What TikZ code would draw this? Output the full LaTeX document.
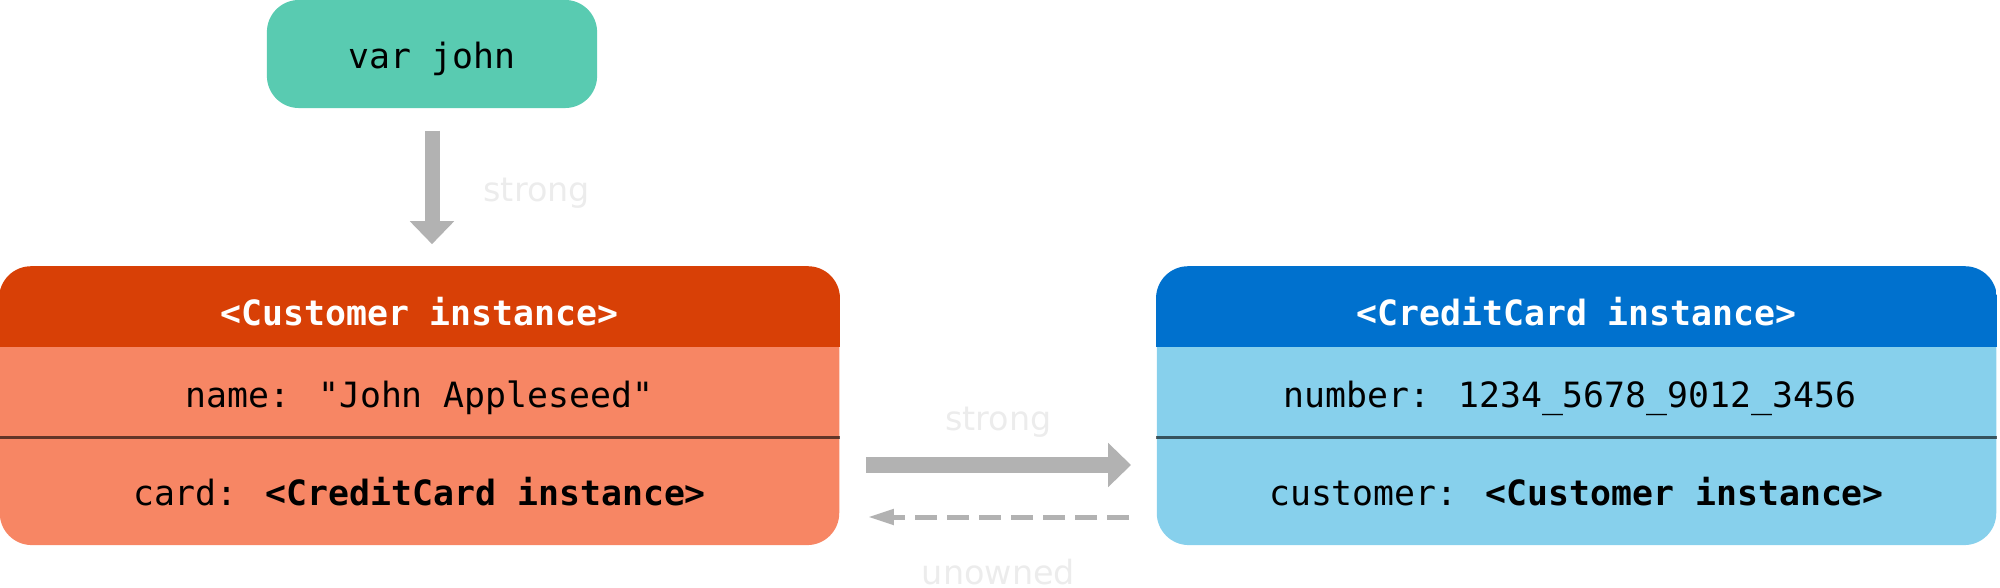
\documentclass[tikz,border=0pt]{standalone}
\usepackage{fontspec}
\usepackage{tikz}
\usetikzlibrary{arrows.meta,positioning,calc}
\newfontfamily\codemono{DejaVu Sans Mono}
\newfontfamily\labelsans{DejaVu Sans}
\newcommand{\codesize}{\fontsize{9.9pt}{12pt}\selectfont}
\newcommand{\labelsize}{\fontsize{9.5pt}{11pt}\selectfont}
\definecolor{johngreen}{RGB}{89,203,177}
\definecolor{custdark}{RGB}{216,64,6}
\definecolor{custlight}{RGB}{247,134,100}
\definecolor{carddark}{RGB}{0,113,206}
\definecolor{cardlight}{RGB}{135,208,236}
\definecolor{refgray}{RGB}{178,178,178}
\definecolor{labelgray}{RGB}{236,236,236}
\tikzset{
    varbox/.style={rounded corners=0.32cm, fill=#1,
                   minimum width=3.3cm, minimum height=1.08cm,
                   text height=8pt, text depth=0pt,
                   font=\codemono\codesize, align=center},
    objbox/.style={rounded corners=0.32cm, fill=#1,
                   minimum width=8.39cm, minimum height=2.78cm},
    rowtext/.style={anchor=base, inner sep=0pt, font=\codemono\codesize},
    headtext/.style={anchor=base, inner sep=0pt,
                     font=\codemono\codesize\bfseries, text=white},
    divider/.style={draw=black, draw opacity=0.6, line width=0.03cm},
    fatarrow/.style={draw=refgray, line width=0.15cm,
                     -{Triangle[width=0.43cm,length=0.23cm]}},
    weakarrow/.style={draw=refgray, line width=0.05cm,
                      dash pattern=on 0.22cm off 0.1cm,
                      -{Triangle[width=0.15cm,length=0.26cm]}},
    reflabel/.style={inner sep=0pt, font=\labelsans\labelsize, text=labelgray},
}
\begin{document}
\begin{tikzpicture}[x=0.01cm, y=-0.01cm]
    \useasboundingbox (0,0) rectangle (2000,588);
    % variable and the two instances
    \node[varbox=johngreen] (john) at (432,54) {var john};
    \node[objbox=custlight] (cust) at (419.5,406) {};
    \node[objbox=cardlight] (card) at (1576.5,406) {};
    % header bands and dividers
    \foreach \obj/\col in {cust/custdark, card/carddark} {
        \begin{scope}
            \clip[rounded corners=0.32cm] (\obj.south west) rectangle (\obj.north east);
            \fill[\col] (\obj.north west) rectangle ($(\obj.north east)+(0,81)$);
        \end{scope}
        \draw[divider] ($(\obj.north west)+(0,171)$) -- ($(\obj.north east)+(0,171)$);
    }
    % texts
    \node[headtext] (custtitle) at (419.5,325) {<Customer instance>};
    \node[rowtext] (custname) at (419.5,407) {name: "John Appleseed"};
    \node[rowtext] (custcard) at (419.5,505) {card: \textbf{<CreditCard instance>}};
    \node[headtext] (cardtitle) at (1576.5,325) {<CreditCard instance>};
    \node[rowtext] (cardnumber) at (1570,407) {number: 1234\_5678\_9012\_3456};
    \node[rowtext] (cardcust) at (1576.5,505) {customer: \textbf{<Customer instance>}};
    % references
    \draw[fatarrow, shorten <=0.22cm, shorten >=0.22cm]
        (john.south) -- (john.south |- cust.north)
        node[reflabel, midway, right=0.44cm, yshift=-0.055cm] {strong};
    \draw[fatarrow] ($(cust.east)+(26,59)$) -- ($(card.west)+(-25,59)$)
        node[reflabel, midway, above=0.20cm] {strong};
    \draw[weakarrow] ($(card.west)+(-27,111)$) -- ($(cust.east)+(28,111)$)
        node[reflabel, midway, below=0.40cm] {unowned};
\end{tikzpicture}
\end{document}
